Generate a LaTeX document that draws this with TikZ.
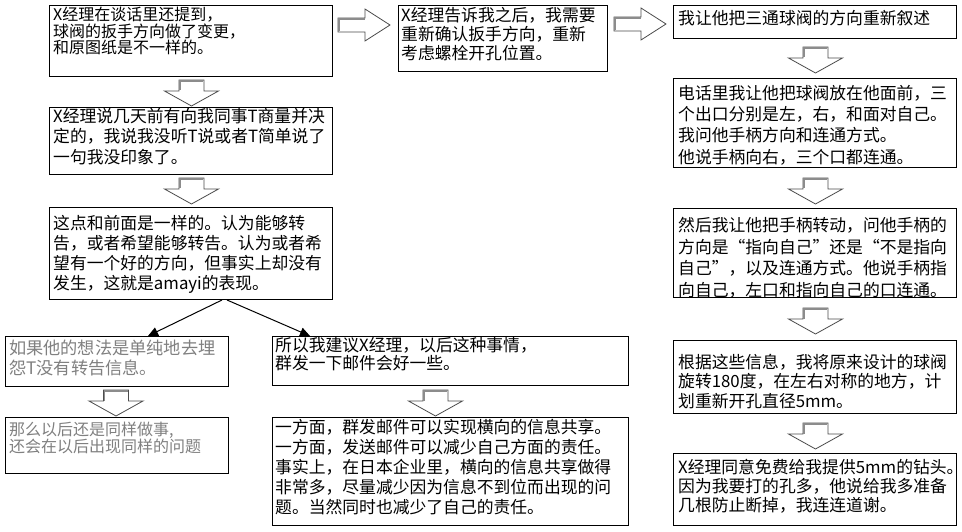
\documentclass[tikz,border=0pt]{standalone}
\usepackage{fontspec}
\setmainfont{Noto Sans CJK SC}
\usetikzlibrary{arrows.meta,calc}
\definecolor{txtgray}{HTML}{808080}
\tikzset{
  box/.style={draw=black, line width=1pt, inner sep=0pt, anchor=north west, fill=white},
  txt/.style={inner sep=0pt, anchor=north west, align=left},
  graytxt/.style={txt, text=txtgray},
  linkarrow/.style={draw=black, line width=1pt, -{Triangle[length=10pt,width=9pt]}},
  barrow/.style={draw=black!70, line width=0.8pt, fill=white, line join=miter},
  bshade/.style={draw=black!45, line width=1.6pt},
  darr/.pic={
    \draw[barrow] (-12.5,0) -- (-12.5,11) -- (-27,11) -- (0,26) -- (27,11) -- (12.5,11) -- (12.5,0) -- cycle;
    \draw[bshade] (-11.7,10.5) -- (-11.7,0.8) -- (11.7,0.8);
  },
  rarr/.pic={
    \draw[barrow] (0,-7) -- (27,-7) -- (27,-16) -- (52,0) -- (27,16) -- (27,7) -- (0,7) -- cycle;
    \draw[bshade] (0.8,6.2) -- (0.8,-6.2) -- (26.5,-6.2);
  }
}
\newcommand{\fs}[2]{\fontsize{#1pt}{#2pt}\selectfont}
\begin{document}
\begin{tikzpicture}[x=1pt,y=-1pt]
\fill[white] (0,0) rectangle (962,532);
\useasboundingbox (0,0) rectangle (962,532);

% left column
\node[box, minimum width=283, minimum height=71] (A) at (49,5) {};
\node[txt, font=\fs{16}{16.5}] (At) at (53,7) {X经理在谈话里还提到，\\球阀的扳手方向做了变更，\\和原图纸是不一样的。};

\node[box, minimum width=283, minimum height=67] (B) at (49,107) {};
\node[txt, font=\fs{16.8}{20.5}] (Bt) at (53,108) {X经理说几天前有向我同事T商量并决\\定的，我说我没听T说或者T简单说了\\一句我没印象了。};

\node[box, minimum width=283, minimum height=92] (C) at (49,207) {};
\node[txt, font=\fs{16.8}{20}] (Ct) at (53,215) {这点和前面是一样的。认为能够转\\告，或者希望能够转告。认为或者希\\望有一个好的方向，但事实上却没有\\发生，这就是amayi的表现。};

% lower left branch
\node[box, minimum width=223, minimum height=50] (D) at (5,336) {};
\node[graytxt, font=\fs{17.2}{20}] (Dt) at (9,340) {如果他的想法是单纯地去埋\\怨T没有转告信息。};

\node[box, minimum width=223, minimum height=56] (E) at (5,417) {};
\node[graytxt, font=\fs{16}{17}] (Et) at (9,422) {那么以后还是同样做事,\\还会在以后出现同样的问题};

% lower middle branch
\node[box, minimum width=356, minimum height=49] (F) at (272,336) {};
\node[txt, font=\fs{16.8}{18}] (Ft) at (275,337) {所以我建议X经理，以后这种事情，\\群发一下邮件会好一些。};

\node[box, minimum width=356, minimum height=108] (G) at (272,417) {};
\node[txt, font=\fs{16.8}{20}] (Gt) at (275,419) {一方面，群发邮件可以实现横向的信息共享。\\一方面，发送邮件可以减少自己方面的责任。\\事实上，在日本企业里，横向的信息共享做得\\非常多，尽量减少因为信息不到位而出现的问\\题。当然同时也减少了自己的责任。};

% middle top
\node[box, minimum width=209, minimum height=66] (H) at (398,5) {};
\node[txt, font=\fs{16.8}{19}] (Ht) at (401,7) {X经理告诉我之后，我需要\\重新确认扳手方向，重新\\考虑螺栓开孔位置。};

% right column
\node[box, minimum width=283, minimum height=33] (I) at (673,5) {};
\node[txt, font=\fs{16.8}{20}] (It) at (678,10) {我让他把三通球阀的方向重新叙述};

\node[box, minimum width=283, minimum height=89] (J) at (673,78) {};
\node[txt, font=\fs{16.8}{21.3}] (Jt) at (678,85) {电话里我让他把球阀放在他面前，三\\个出口分别是左，右，和面对自己。\\我问他手柄方向和连通方式。\\他说手柄向右，三个口都连通。};

\node[box, minimum width=283, minimum height=89] (K) at (673,208) {};
\node[txt, font=\fs{16.8}{21.7}] (Kt) at (678,217) {然后我让他把手柄转动，问他手柄的\\方向是“指向自己”还是“不是指向\\自己”，以及连通方式。他说手柄指\\向自己，左口和指向自己的口连通。};

\node[box, minimum width=283, minimum height=73] (L) at (673,340) {};
\node[txt, font=\fs{16.8}{19.5}] (Lt) at (678,354) {根据这些信息，我将原来设计的球阀\\旋转180度，在左右对称的地方，计\\划重新开孔直径5mm。};

\node[box, minimum width=283, minimum height=72] (M) at (673,453) {};
\node[txt, font=\fs{16.8}{19}] (Mt) at (678,459) {X经理同意免费给我提供5mm的钻头。\\因为我要打的孔多，他说给我多准备\\几根防止断掉，我连连道谢。};

% block arrows
\pic at ($(A.south)+(0.5,3)$) {darr};
\pic at ($(B.south)+(0.5,3)$) {darr};
\pic at ($(D.south)+(-1,3)$) {darr};
\pic at ($(F.south)+(-15,4)$) {darr};
\pic at ($(I.south)+(0.5,8)$) {darr};
\pic at ($(J.south)+(0.5,10)$) {darr};
\pic at ($(K.south)+(0.5,10)$) {darr};
\pic at ($(L.south)+(0.5,9)$) {darr};
\pic at ($(A.north east)+(5,20)$) {rarr};
\pic at ($(H.north east)+(6,19)$) {rarr};

% branch connectors
\draw[linkarrow] ($(C.south west)+(173,0)$) -- ($(D.north west)+(143,0)$);
\draw[linkarrow] ($(C.south west)+(178,0)$) -- ($(F.north west)+(38,0)$);
\end{tikzpicture}
\end{document}
